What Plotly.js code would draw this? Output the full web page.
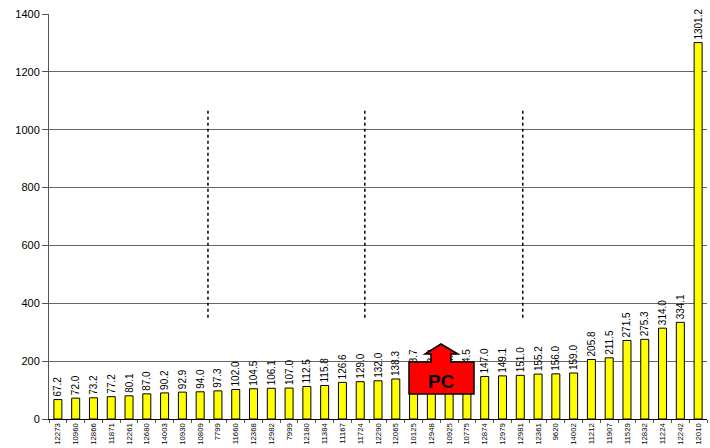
<!DOCTYPE html>
<html>
<head>
<meta charset="utf-8">
<script src="https://cdn.plot.ly/plotly-3.0.1.min.js"></script>
<style>html,body{margin:0;padding:0;background:#fff;}#chart{width:710px;height:448px;}</style>
</head>
<body>
<div id="chart"></div>
<script>
var categories = ["12273","10960","12866","11871","12261","12680","14003","10930","10809","7799","11660","12368","12982","7999","12180","11384","11167","11724","12290","12065","10125","12948","10925","10775","12874","12979","12981","12361","9620","14002","11212","11907","11529","12832","11224","12242","12010"];
var values = [67.2,72.0,73.2,77.2,80.1,87.0,90.2,92.9,94.0,97.3,102.0,104.5,106.1,107.0,112.5,115.8,126.6,129.0,132.0,138.3,143.7,143.8,144.0,144.5,147.0,149.1,151.0,155.2,156.0,159.0,205.8,211.5,271.5,275.3,314.0,334.1,1301.2];
var yTicks = [0,200,400,600,800,1000,1200,1400];
var markerFractions = [0.2416, 0.480, 0.720];
var markerRange = [350, 1070];
var boxLabel = "PC";

// plot area in pixels (for placing the decorative arrow box)
var L = 49, R = 3, T = 14, B = 29, W = 710, H = 448;
var pw = W - L - R, ph = H - T - B;
function px(x){ return (x - L) / pw; }
function py(y){ return (H - B - y) / ph; }

var shapes = markerFractions.map(function(f){
  return {type:'line', xref:'paper', yref:'y', x0:f, x1:f, y0:markerRange[0], y1:markerRange[1],
          line:{color:'#000', width:1.5, dash:'dot'}};
});
var pts = [[409,394],[409,362],[431,362],[431,354],[425,354],[441,344],[458,354],[451,354],[451,362],[474,362],[474,394]];
var path = pts.map(function(p,i){ return (i===0?'M':'L') + px(p[0]).toFixed(4) + ',' + py(p[1]).toFixed(4); }).join(' ') + ' Z';
shapes.push({type:'path', xref:'paper', yref:'paper', path:path, fillcolor:'#FF0000',
             line:{color:'#000', width:1.5}, layer:'above'});

var trace = {
  type:'bar', x:categories, y:values,
  marker:{color:'#FFFF00', line:{color:'#000', width:1}},
  text: values.map(function(v){ return v.toFixed(1); }),
  textposition:'outside', textangle:-90, cliponaxis:false, constraintext:'none',
  textfont:{family:'Liberation Sans Narrow, Arial Narrow, Arial, sans-serif', size:10, color:'#000'},
  hoverinfo:'x+y'
};

var layout = {
  width:W, height:H,
  margin:{l:L, r:R, t:T, b:B, pad:0},
  paper_bgcolor:'#fff', plot_bgcolor:'#fff',
  showlegend:false,
  bargap:0.55,
  xaxis:{type:'category', tickangle:-90, tickson:'boundaries', ticks:'outside', ticklen:3,
         tickcolor:'#555', showline:true, linecolor:'#000', linewidth:1, showgrid:false,
         tickfont:{family:'Arial, Liberation Sans, sans-serif', size:7.8, color:'#000'}, automargin:false},
  yaxis:{range:[0,1400], tickvals:yTicks, ticks:'outside', ticklen:6, tickcolor:'#555',
         showline:true, linecolor:'#555', linewidth:1, showgrid:true, gridcolor:'#666', gridwidth:1,
         zeroline:false, tickfont:{family:'Arial, Liberation Sans, sans-serif', size:11, color:'#000'}, automargin:false},
  shapes:shapes,
  annotations:[{xref:'paper', yref:'paper', x:px(441.5), y:py(381), text:'<b>'+boxLabel+'</b>', showarrow:false,
                font:{family:'Arial, Liberation Sans, sans-serif', size:19, color:'#000'}, xanchor:'center', yanchor:'middle'}]
};

Plotly.newPlot('chart', [trace], layout, {displayModeBar:false, staticPlot:true});
</script>
</body>
</html>
